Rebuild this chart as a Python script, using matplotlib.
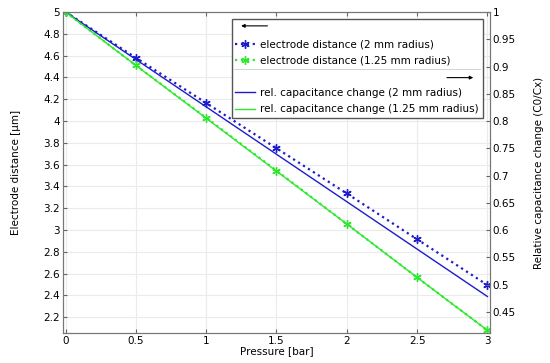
import matplotlib.pyplot as plt
from matplotlib.lines import Line2D

# Pressure steps [bar]
pressure = [0, 0.5, 1, 1.5, 2, 2.5, 3]

# Electrode distance [um] (left axis)
dist_2mm = [5.0, 4.58, 4.165, 3.75, 3.335, 2.915, 2.495]
dist_125mm = [5.0, 4.51, 4.03, 3.545, 3.055, 2.565, 2.08]

# Relative capacitance change C0/Cx (right axis)
cap_2mm = [1.0, 0.913, 0.826, 0.739, 0.652, 0.565, 0.478]
cap_125mm = [1.0, 0.902, 0.805, 0.708, 0.611, 0.513, 0.416]

left_ticks = [2.2, 2.4, 2.6, 2.8, 3, 3.2, 3.4, 3.6, 3.8, 4, 4.2, 4.4, 4.6, 4.8, 5]
right_ticks = [0.45, 0.5, 0.55, 0.6, 0.65, 0.7, 0.75, 0.8, 0.85, 0.9, 0.95, 1]
x_ticks = [0, 0.5, 1, 1.5, 2, 2.5, 3]

blue = '#1c1ccc'
green = '#2ee82e'
ast = (6, 2, 0)  # asterisk marker

plt.rcParams['font.family'] = 'DejaVu Sans'
plt.rcParams['font.size'] = 7.5

fig = plt.figure(figsize=(5.5, 3.63), dpi=100)
ax1 = fig.add_axes([0.1145, 0.0826, 0.7764, 0.8843])
ax2 = ax1.twinx()

ax1.plot(pressure, dist_2mm, color=blue, linestyle=':', linewidth=1.6,
         marker=ast, markersize=6, markeredgewidth=1.0, zorder=3)
ax1.plot(pressure, dist_125mm, color=green, linestyle=':', linewidth=1.6,
         marker=ast, markersize=6, markeredgewidth=1.0, zorder=3)
ax2.plot(pressure, cap_2mm, color=blue, linewidth=1.0)
ax2.plot(pressure, cap_125mm, color=green, linewidth=1.0)

ax1.set_xlim(-0.0185, 3.0185)
ax1.set_ylim(2.055, 5.0)
ax2.set_ylim(0.411, 1.0)
ax1.set_xticks(x_ticks)
ax1.set_xticklabels([f'{v:g}' for v in x_ticks])
ax1.set_yticks(left_ticks)
ax1.set_yticklabels([f'{v:g}' for v in left_ticks])
ax2.set_yticks(right_ticks)
ax2.set_yticklabels([f'{v:g}' for v in right_ticks])

ax1.grid(True, color='#ebebeb', linewidth=0.8)
ax1.set_axisbelow(True)
ax1.tick_params(direction='in', length=3, color='#666666', top=True, pad=2)
ax2.tick_params(direction='in', length=3, color='#666666', pad=2)
for a in (ax1, ax2):
    for s in a.spines.values():
        s.set_color('#777777')

ax1.set_xlabel('Pressure [bar]', labelpad=0)
ax1.set_ylabel('Electrode distance [µm]', labelpad=16)
ax2.set_ylabel('Relative capacitance change (C0/Cx)', labelpad=13)

# Legend with arrow rows indicating the axis each group belongs to
blank = Line2D([], [], linestyle='none')
handles = [
    blank,
    Line2D([], [], color=blue, linestyle=':', linewidth=1.6, marker=ast, markersize=6, markeredgewidth=1.0),
    Line2D([], [], color=green, linestyle=':', linewidth=1.6, marker=ast, markersize=6, markeredgewidth=1.0),
    blank,
    Line2D([], [], color=blue, linewidth=1.0),
    Line2D([], [], color=green, linewidth=1.0),
]
labels = ['', 'electrode distance (2 mm radius)', 'electrode distance (1.25 mm radius)',
          '', 'rel. capacitance change (2 mm radius)', 'rel. capacitance change (1.25 mm radius)']
leg = ax2.legend(handles, labels, loc='upper right', bbox_to_anchor=(0.995, 0.993),
                 fancybox=False, edgecolor='#555555', framealpha=1,
                 handlelength=1.9, handletextpad=0.5, labelspacing=0.6,
                 borderpad=0.35, fontsize=7.5)
leg.get_frame().set_linewidth(1.0)

fig.canvas.draw()
bb = leg.get_window_extent().transformed(fig.transFigure.inverted())
x0, y0, x1, y1 = bb.x0, bb.y0, bb.x1, bb.y1
h = y1 - y0
fig.add_artist(plt.annotate('', xy=(x0 + 0.012, y1 - 0.065 * h), xytext=(x0 + 0.07, y1 - 0.065 * h),
                            xycoords='figure fraction',
                            arrowprops=dict(arrowstyle='-|>', color='black', lw=0.8,
                                            mutation_scale=5)))
fig.add_artist(plt.annotate('', xy=(x1 - 0.012, y0 + 0.41 * h), xytext=(x1 - 0.07, y0 + 0.41 * h),
                            xycoords='figure fraction',
                            arrowprops=dict(arrowstyle='-|>', color='black', lw=0.8,
                                            mutation_scale=5)))
fig.add_artist(Line2D([x0 + 0.005, x1 - 0.005], [y0 + 0.5 * h, y0 + 0.5 * h],
                      transform=fig.transFigure, color='#cccccc', linewidth=0.6))

fig.savefig('out.png', dpi=100)
